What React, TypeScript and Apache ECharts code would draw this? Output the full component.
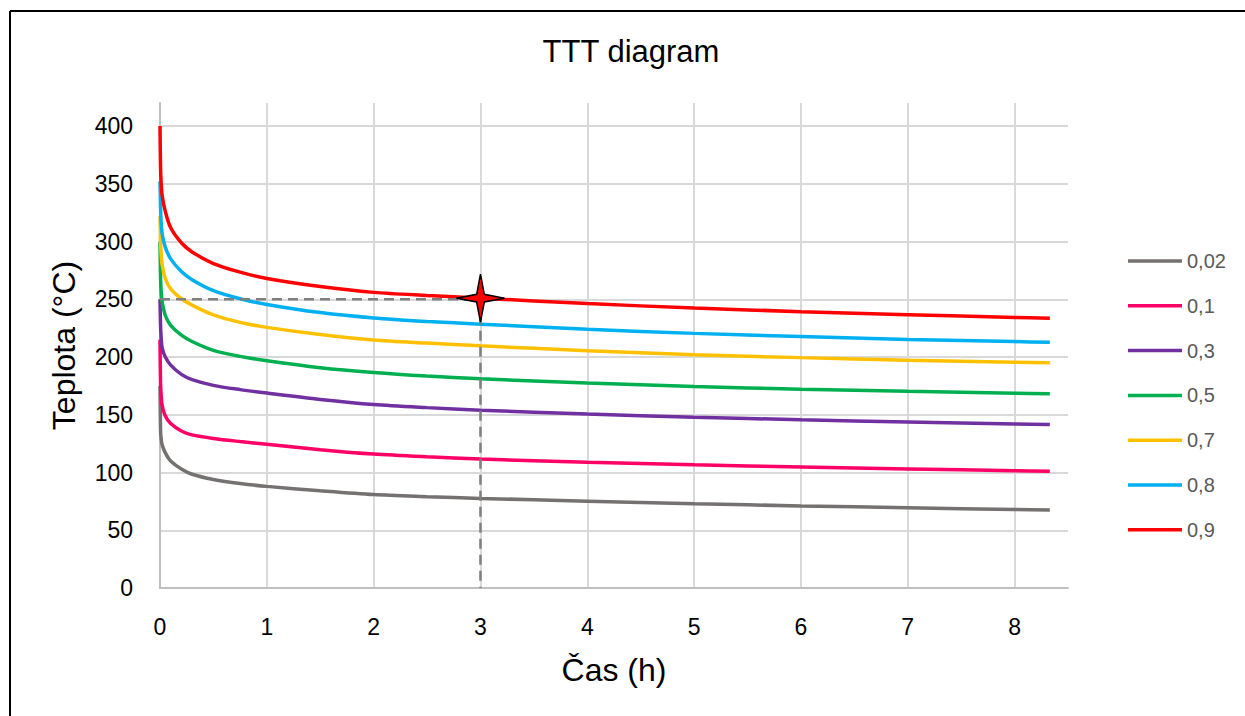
import React, { useEffect, useRef } from "react";
import * as echarts from "echarts";

// Time (h)
const hours = [0, 0.005, 0.01, 0.02, 0.05, 0.1, 0.2, 0.3, 0.5, 0.75, 1, 1.5, 2, 2.5, 3, 4, 5, 6, 7, 8, 8.33];

const seriesNames = ["0,02", "0,1", "0,3", "0,5", "0,7", "0,8", "0,9"];
const seriesColors = ["#767171", "#FF0066", "#7030A0", "#00B050", "#FFC000", "#00B0F0", "#FF0000"];

const gray02 = [175, 137, 130, 124, 117, 110, 103, 98.5, 94, 90.5, 88, 84.2, 80.9, 79.1, 77.6, 75.2, 73, 71.1, 69.5, 68, 67.6];
const pink01 = [215, 178, 168, 158, 149, 142.5, 136, 132.6, 129.5, 126.8, 124.4, 119.8, 116, 113.6, 111.7, 108.9, 106.7, 104.8, 103.1, 101.6, 101.1];
const purple03 = [250, 228, 218, 208, 200, 193, 185, 180.5, 175.5, 171.8, 168.8, 163.3, 158.9, 156.2, 154, 150.6, 147.9, 145.7, 143.8, 142.1, 141.6];
const green05 = [300, 270, 258, 248, 236, 227.5, 219, 213.5, 205.8, 200.6, 196.8, 190.8, 186.6, 183.5, 181.1, 177.5, 174.5, 172.2, 170.3, 168.7, 168.2];
const yellow07 = [322, 300, 290, 280, 268, 259, 250.5, 245, 236.5, 230, 225.7, 219.5, 214.8, 212.1, 209.7, 205.5, 202, 199.5, 197.3, 195.5, 195];
const blue08 = [352, 330, 318, 307, 295, 285, 274, 267, 257.5, 250.5, 245.5, 238.5, 233.8, 230.8, 228.5, 224, 220.5, 217.7, 215.3, 213.4, 212.8];
const red09 = [400, 365, 352, 340, 326, 312, 299, 291, 281, 273.5, 268, 261, 256, 253.3, 251, 246.3, 242.5, 239.3, 236.7, 234.3, 233.5];

const seriesValues = [gray02, pink01, purple03, green05, yellow07, blue08, red09];

// reference dashed guide and marker
const guideX = [0, 3, 3];
const guideY = [250, 250, 0];
const markerPoint = [3, 251];

const xTicks = { min: 0, max: 8.5, interval: 1 };
const yTicks = { min: 0, max: 420, interval: 50 };

const FONT = "'Liberation Sans', Arial, sans-serif";

export default function App() {
  const ref = useRef<HTMLDivElement>(null);
  useEffect(() => {
    document.body.style.margin = "0";
    if (!ref.current) return;
    const chart = echarts.init(ref.current, null, { renderer: "svg" });

    const lineSeries = seriesNames.map((name, si) => ({
      name,
      type: "line",
      data: hours.map((h, i) => [h, seriesValues[si][i]]),
      symbol: "none",
      showSymbol: false,
      smooth: 0.3,
      lineStyle: { color: seriesColors[si], width: 3.5 },
      itemStyle: { color: seriesColors[si] },
      z: 3,
    }));

    const option: any = {
      animation: false,
      backgroundColor: "#ffffff",
      textStyle: { fontFamily: FONT },
      grid: { left: 160, right: 177, top: 103, bottom: 128, containLabel: false },
      legend: {
        data: seriesNames,
        orient: "vertical",
        left: 1123,
        top: 246,
        icon: "path://M0,0 L54,0 L54,3.5 L0,3.5 Z",
        itemWidth: 54,
        itemHeight: 20,
        itemGap: 24.8,
        textStyle: { color: "#595959", fontSize: 20, fontFamily: FONT },
        selectedMode: false,
      },
      xAxis: {
        type: "value",
        min: xTicks.min,
        max: xTicks.max,
        interval: xTicks.interval,
        name: "Čas (h)",
        nameLocation: "middle",
        nameGap: 66,
        nameTextStyle: { color: "#000", fontSize: 32, fontFamily: FONT },
        axisLine: { show: true, onZero: false, lineStyle: { color: "#bfbfbf", width: 2 } },
        axisTick: { show: false },
        axisLabel: { color: "#000", fontSize: 23, margin: 27, showMaxLabel: false, fontFamily: FONT },
        splitLine: { show: true, showMaxLine: false, lineStyle: { color: "#d9d9d9", width: 2 } },
      },
      yAxis: {
        type: "value",
        min: yTicks.min,
        max: yTicks.max,
        interval: yTicks.interval,
        name: "Teplota (°C)",
        nameLocation: "middle",
        nameGap: 80,
        nameTextStyle: { color: "#000", fontSize: 32, fontFamily: FONT },
        axisLine: { show: true, lineStyle: { color: "#bfbfbf", width: 2 } },
        axisTick: { show: false },
        axisLabel: { color: "#000", fontSize: 23, margin: 27, showMaxLabel: false, fontFamily: FONT },
        splitLine: { show: true, showMaxLine: false, lineStyle: { color: "#d9d9d9", width: 2 } },
      },
      series: [
        ...lineSeries,
        {
          name: "guide",
          type: "line",
          data: guideX.map((x, i) => [x, guideY[i]]),
          symbol: "none",
          lineStyle: { color: "#7f7f7f", width: 2.5, type: [10, 6] },
          z: 4,
        },
        {
          name: "marker",
          type: "scatter",
          data: [markerPoint],
          symbol: "path://M50,0 L58,42 L100,50 L58,58 L50,100 L42,58 L0,50 L42,42 Z",
          symbolSize: [48, 48],
          itemStyle: { color: "#FF0000", borderColor: "#000000", borderWidth: 1.5, opacity: 1 },
          z: 6,
        },
      ],
      graphic: [
        {
          type: "text",
          x: 631,
          y: 51,
          style: {
            text: "TTT diagram",
            fill: "#000",
            font: `31px ${FONT}`,
            fontSize: 31,
            fontFamily: FONT,
            align: "center",
            verticalAlign: "middle",
            textAlign: "center",
            textVerticalAlign: "middle",
          },
        },
        {
          type: "line",
          shape: { x1: 10, y1: 11, x2: 1245, y2: 11 },
          style: { stroke: "#000", lineWidth: 2 },
        },
        {
          type: "line",
          shape: { x1: 10, y1: 11, x2: 10, y2: 716 },
          style: { stroke: "#000", lineWidth: 2 },
        },
      ],
    };
    chart.setOption(option);
    return () => chart.dispose();
  }, []);
  return <div ref={ref} style={{ width: 1245, height: 716 }} />;
}
